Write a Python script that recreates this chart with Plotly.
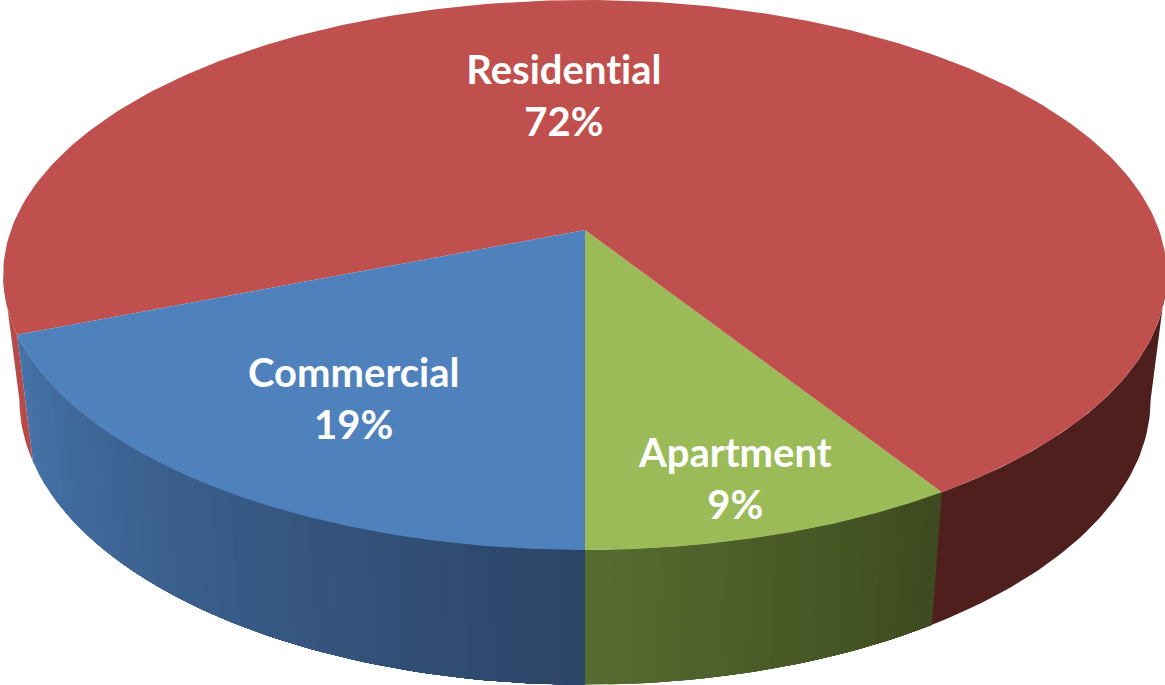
import numpy as np
import plotly.graph_objects as go

labels = ["Apartment", "Residential", "Commercial"]
values = [9, 72, 19]
percent_text = ["9%", "72%", "19%"]
top_colors = ["#9BBB59", "#C0504D", "#4F81BD"]
# side shading: (colour at start of the visible arc, colour at its end)
side_colors = {
    "Apartment": ("#566B30", "#3E4B20"),
    "Residential": ("#4F1F1D", "#4F1F1D"),
    "Commercial": ("#4572A8", "#2C4567"),
}
residential_far_side = "#B84B48"
label_x = [735, 564, 353]
label_y = [478, 95, 398]

W, H = 1165, 685
CX, K = 585, 0.1636
TOP = dict(a=574, b=267.6, cy=230)      # perspective of the top rim
BOTTOM = dict(a=558, b=277.4, cy=353)   # perspective of the bottom rim
SILHOUETTE = np.arcsin(np.sqrt(1 - K ** 2))  # where each rim reaches its widest x


def project(phi, rim=TOP):
    X, Y = np.sin(phi), np.cos(phi)
    w = 1 - K * Y
    return CX + rim["a"] * X / w, rim["cy"] + rim["b"] * Y / w


def mix(c0, c1, t):
    a = [int(c0[i:i + 2], 16) for i in (1, 3, 5)]
    b = [int(c1[i:i + 2], 16) for i in (1, 3, 5)]
    return "rgb(%d,%d,%d)" % tuple(round(p + (q - p) * t) for p, q in zip(a, b))


def poly(x, y, color):
    return go.Scatter(x=x, y=y, mode="lines", fill="toself", fillcolor=color,
                      line=dict(color=color, width=0), hoverinfo="skip",
                      showlegend=False)


def wall(p0, p1, color):
    arc = np.linspace(p0, p1, max(4, int(np.degrees(p1 - p0)) + 2))
    x0, y0 = project(arc, TOP)
    x1, y1 = project(arc[::-1], BOTTOM)
    return poly(np.r_[x0, x1, x0[0]], np.r_[y0, y1, y0[0]], color)


fig = go.Figure()
edges = np.concatenate([[0], np.cumsum(values)]) / sum(values) * 2 * np.pi

# side wall, painted from each slice's start so later bands overlap earlier ones
for name, start, end in zip(labels, edges[:-1], edges[1:]):
    if name == "Residential":
        fig.add_trace(wall(start, SILHOUETTE, side_colors[name][0]))
        fig.add_trace(wall(2 * np.pi - SILHOUETTE, end, residential_far_side))
        continue
    n = int(np.degrees(end - start) / 2)
    steps = np.linspace(start, end, n + 1)
    for i, p0 in enumerate(steps[:-1]):
        fig.add_trace(wall(p0, end, mix(*side_colors[name], i / (n - 1))))

# top face
for name, start, end, col in zip(labels, edges[:-1], edges[1:], top_colors):
    arc = np.linspace(start, end, 240)
    x, y = project(arc, TOP)
    fig.add_trace(poly(np.r_[CX, x, CX], np.r_[TOP["cy"], y, TOP["cy"]], col))

for name, pct, lx, ly in zip(labels, percent_text, label_x, label_y):
    fig.add_annotation(x=lx, y=ly, text=f"{name}<br>{pct}", showarrow=False,
                       font=dict(family="Lato", size=40, color="white", weight="bold"),
                       align="center", xanchor="center", yanchor="middle")

fig.update_layout(width=W, height=H, margin=dict(l=0, r=0, t=0, b=0),
                  paper_bgcolor="white", plot_bgcolor="white",
                  xaxis=dict(range=[0, W], visible=False, fixedrange=True),
                  yaxis=dict(range=[H, 0], visible=False, fixedrange=True))
css = ("document.body.style.margin='0';document.body.style.overflow='hidden';"
       "var s=document.createElement('style');"
       "s.textContent='text{font-variant-ligatures:none !important;"
       "font-feature-settings:\"liga\" 0 !important}';"
       "document.head.appendChild(s);")
fig.write_html("out.html", config={"displayModeBar": False}, post_script=css)
